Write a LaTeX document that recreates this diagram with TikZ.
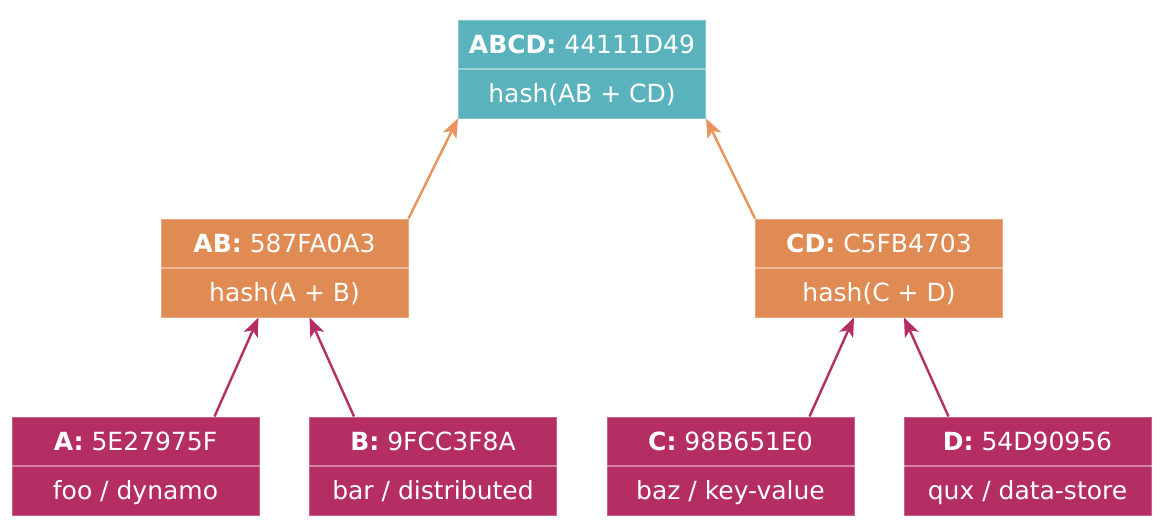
\documentclass[tikz,border=0pt]{standalone}
\usepackage{fontspec}
\setmainfont{DejaVu Sans}
\usetikzlibrary{arrows.meta}
\definecolor{teal1}{HTML}{5AB3BC}
\definecolor{orange1}{HTML}{E08A54}
\definecolor{mag1}{HTML}{B42D63}
\definecolor{orangeln}{HTML}{E8935A}
\tikzset{
  box/.style={rectangle, fill=#1, draw=#1!75!white, line width=1pt,
    minimum width=247pt, minimum height=98pt, inner sep=0pt},
  txt/.style={anchor=base, text=white, inner sep=0pt, font=\fontsize{25}{28}\selectfont},
  divline/.style={draw=white, draw opacity=0.4, line width=1.5pt},
  arr/.style={draw=#1, line width=2.4pt, -{Stealth[length=19pt,width=15pt,inset=5pt]}},
}
\newcommand\mkbox[7]{%
  \node[box=#4] (#1) at (#2,#3) {};
  \node[txt] (#1t) at ([yshift=-34pt]#1.north) {\textbf{#5} #6};
  \node[txt] (#1s) at ([yshift=16pt]#1.south) {#7};
  \draw[divline] (#1.west) -- (#1.east);
}
\begin{document}
\begin{tikzpicture}
\begin{scope}[x=1pt,y=-1pt]
\useasboundingbox (0,0) rectangle (1168,530);
\mkbox{ABCD}{582}{69}{teal1}{ABCD:}{44111D49}{hash(AB + CD)}
\mkbox{AB}{284.5}{268}{orange1}{AB:}{587FA0A3}{hash(A + B)}
\mkbox{CD}{879}{268}{orange1}{CD:}{C5FB4703}{hash(C + D)}
\mkbox{A}{135.5}{466}{mag1}{A:}{5E27975F}{foo / dynamo}
\mkbox{B}{433}{466}{mag1}{B:}{9FCC3F8A}{bar / distributed}
\mkbox{C}{730.5}{466}{mag1}{C:}{98B651E0}{baz / key-value}
\mkbox{D}{1027.5}{466}{mag1}{D:}{54D90956}{qux / data-store}
\end{scope}
\draw[arr=orangeln] (AB.north east) -- (ABCD.south west);
\draw[arr=orangeln] (CD.north west) -- (ABCD.south east);
\draw[arr=mag1] ([xshift=79pt]A.north) -- ([xshift=-26pt]AB.south);
\draw[arr=mag1] ([xshift=-79pt]B.north) -- ([xshift=25pt]AB.south);
\draw[arr=mag1] ([xshift=79pt]C.north) -- ([xshift=-25pt]CD.south);
\draw[arr=mag1] ([xshift=-79pt]D.north) -- ([xshift=25pt]CD.south);
\end{tikzpicture}
\end{document}
